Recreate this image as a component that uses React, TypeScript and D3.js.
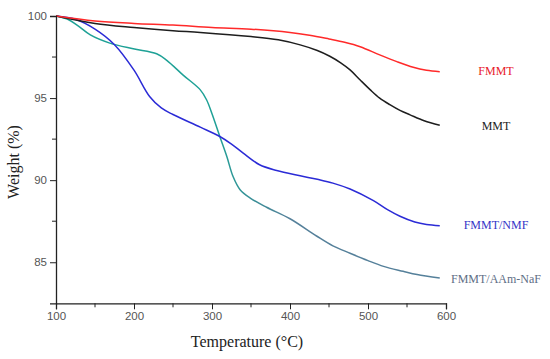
import React, { useRef, useEffect } from 'react';
import * as d3 from 'd3';

// temperature (°C) and weight (%)
const fmmtT = [100, 150, 200, 250, 300, 350, 400, 425, 450, 470, 490, 515, 537, 558, 575, 592];
const fmmtW = [100, 99.7, 99.55, 99.45, 99.3, 99.2, 99.0, 98.83, 98.6, 98.4, 98.13, 97.63, 97.22, 96.88, 96.7, 96.61];

const mmtT = [100, 150, 200, 250, 285, 350, 385, 413, 435, 451, 465, 477, 490, 503, 515, 528, 541, 554, 572, 592];
const mmtW = [100, 99.55, 99.3, 99.1, 99.0, 98.75, 98.55, 98.24, 97.9, 97.55, 97.15, 96.72, 96.1, 95.5, 95.0, 94.6, 94.25, 93.98, 93.62, 93.35];

const nmfT = [100, 125, 150, 175, 200, 220, 235, 250, 285, 310, 325, 340, 361, 383, 413, 435, 455, 477, 507, 525, 541, 560, 575, 592];
const nmfW = [100, 99.8, 99.2, 98.25, 96.7, 95.1, 94.4, 94.0, 93.23, 92.66, 92.2, 91.65, 90.94, 90.59, 90.27, 90.05, 89.82, 89.46, 88.75, 88.2, 87.8, 87.45, 87.3, 87.23];

const aamT = [100, 115, 127, 144, 169, 199, 229, 242, 263, 285, 293, 300, 310, 319, 327, 336, 349, 370, 400, 434, 455, 477, 500, 520, 545, 563, 592];
const aamW = [100, 99.8, 99.45, 98.85, 98.35, 98.0, 97.7, 97.3, 96.4, 95.5, 94.9, 94.05, 92.66, 91.44, 90.22, 89.42, 88.91, 88.35, 87.65, 86.6, 86.0, 85.55, 85.1, 84.75, 84.45, 84.25, 84.04];

const xTicks = [100, 200, 300, 400, 500, 600];
const xMinor = [150, 250, 350, 450, 550];
const yTicks = [85, 90, 95, 100];
const yMinor = [87.5, 92.5, 97.5];

const labels = [
  { name: 'FMMT', dy: 75, color: '#e8202a' },
  { name: 'MMT', dy: 130, color: '#222222' },
  { name: 'FMMT/NMF', dy: 229, color: '#3535c8' },
  { name: 'FMMT/AAm-NaF', dy: 283, color: '#5e6e85' },
];

const App = () => {
  const svgRef = useRef<SVGSVGElement>(null);

  useEffect(() => {
    const svg = d3.select(svgRef.current);
    svg.selectAll('*').remove();

    const x = d3.scaleLinear().domain([100, 600]).range([56, 446]);
    const y = d3.scaleLinear().domain([82.5, 100]).range([303.3, 16]);

    const defs = svg.append('defs');
    const grad = defs.append('linearGradient')
      .attr('id', 'aamGrad')
      .attr('gradientUnits', 'userSpaceOnUse')
      .attr('x1', x(300)).attr('x2', x(400)).attr('y1', 0).attr('y2', 0);
    grad.append('stop').attr('offset', 0).attr('stop-color', '#1ea196');
    grad.append('stop').attr('offset', 1).attr('stop-color', '#55809a');

    const line = d3.line<[number, number]>()
      .x(d => x(d[0]))
      .y(d => y(d[1]))
      .curve(d3.curveCatmullRom.alpha(0.5));

    const series = [
      { t: aamT, w: aamW, color: 'url(#aamGrad)' },
      { t: nmfT, w: nmfW, color: '#2b2bd6' },
      { t: mmtT, w: mmtW, color: '#1e1e1e' },
      { t: fmmtT, w: fmmtW, color: '#ff2a2a' },
    ];

    series.forEach(s => {
      svg.append('path')
        .attr('d', line(s.t.map((t, i) => [t, s.w[i]] as [number, number])))
        .attr('fill', 'none')
        .attr('stroke', s.color)
        .attr('stroke-width', 1.5);
    });

    // x axis
    const xAxis = svg.append('g')
      .attr('transform', `translate(0,${y(82.5)})`)
      .call(d3.axisBottom(x).tickValues(xTicks).tickSize(6).tickPadding(3).tickFormat(d3.format('d')));
    xAxis.append('g').selectAll('line').data(xMinor).enter().append('line')
      .attr('x1', d => x(d)).attr('x2', d => x(d))
      .attr('y1', 0).attr('y2', 4).attr('stroke', '#222');

    // y axis
    const yAxis = svg.append('g')
      .attr('transform', `translate(${x(100)},0)`)
      .call(d3.axisLeft(y).tickValues(yTicks).tickSize(6).tickPadding(3).tickFormat(d3.format('d')));
    yAxis.append('g').selectAll('line').data(yMinor).enter().append('line')
      .attr('y1', d => y(d)).attr('y2', d => y(d))
      .attr('x1', 0).attr('x2', -4).attr('stroke', '#222');

    [xAxis, yAxis].forEach(a => {
      a.select('.domain').attr('stroke', '#222').attr('stroke-width', 1.3);
      a.selectAll('.tick line').attr('stroke', '#222');
      a.selectAll('.tick text')
        .attr('font-family', 'Liberation Sans, Arial, sans-serif')
        .attr('font-size', 11.5)
        .attr('fill', '#555');
    });

    svg.append('text')
      .attr('x', 247).attr('y', 347)
      .attr('text-anchor', 'middle')
      .attr('font-family', 'Liberation Serif, Times New Roman, serif')
      .attr('font-size', 16)
      .attr('fill', '#222')
      .text('Temperature (°C)');

    svg.append('text')
      .attr('transform', 'translate(19,162) rotate(-90)')
      .attr('text-anchor', 'middle')
      .attr('font-family', 'Liberation Serif, Times New Roman, serif')
      .attr('font-size', 16)
      .attr('fill', '#222')
      .text('Weight (%)');

    svg.append('g').selectAll('text').data(labels).enter().append('text')
      .attr('x', 496).attr('y', d => d.dy)
      .attr('text-anchor', 'middle')
      .attr('font-family', 'Liberation Serif, Times New Roman, serif')
      .attr('font-size', 12)
      .attr('fill', d => d.color)
      .text(d => d.name);
  }, []);

  return (
    <svg ref={svgRef} width="550" height="359"
      style={{ position: 'absolute', left: 0, top: 0, background: '#fff' }} />
  );
};

export default App;
